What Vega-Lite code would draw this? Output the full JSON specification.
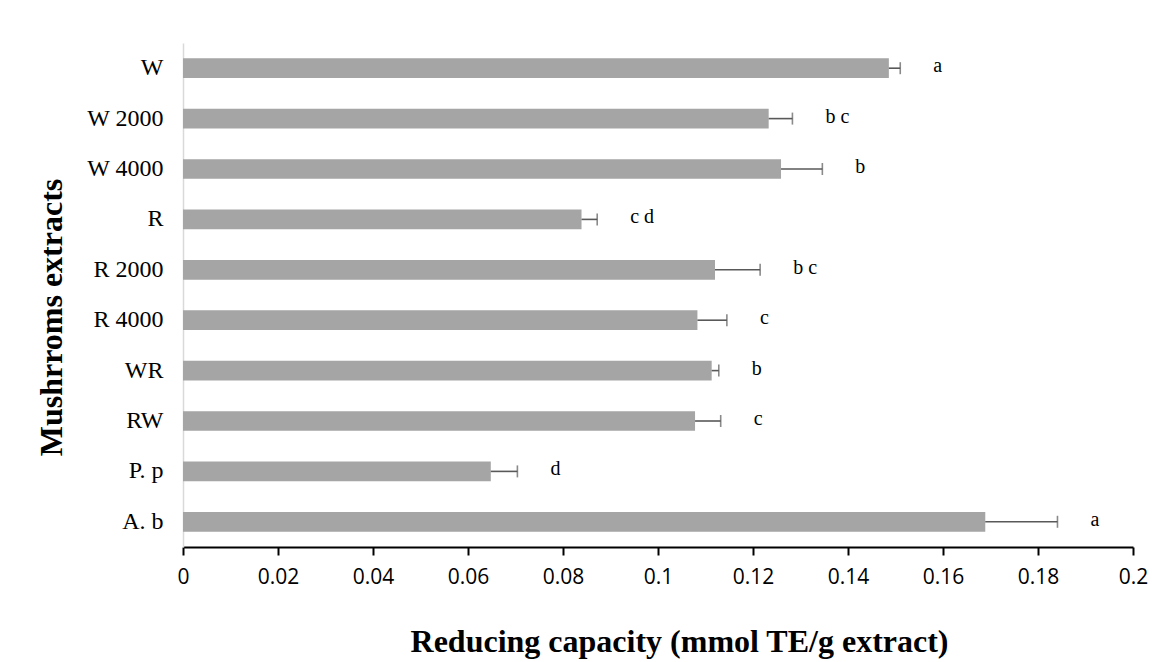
{
  "$schema": "https://vega.github.io/schema/vega-lite/v6.json",
  "autosize": {"type": "none"},
  "width": 950,
  "height": 504,
  "padding": {"left": 183, "top": 43, "right": 38, "bottom": 115},
  "background": "white",
  "config": {"view": {"stroke": null}},
  "data": {
    "values": [
      {"extract": "W", "value": 0.1486, "upper": 0.151, "letter": "a"},
      {"extract": "W 2000", "value": 0.1233, "upper": 0.1283, "letter": "b c"},
      {"extract": "W 4000", "value": 0.1259, "upper": 0.1346, "letter": "b"},
      {"extract": "R", "value": 0.0839, "upper": 0.0872, "letter": "c d"},
      {"extract": "R 2000", "value": 0.112, "upper": 0.1215, "letter": "b c"},
      {"extract": "R 4000", "value": 0.1083, "upper": 0.1145, "letter": "c"},
      {"extract": "WR", "value": 0.1113, "upper": 0.1128, "letter": "b"},
      {"extract": "RW", "value": 0.1078, "upper": 0.1132, "letter": "c"},
      {"extract": "P. p", "value": 0.0648, "upper": 0.0704, "letter": "d"},
      {"extract": "A. b", "value": 0.1689, "upper": 0.1841, "letter": "a"}
    ]
  },
  "encoding": {
    "y": {
      "field": "extract",
      "type": "nominal",
      "sort": null,
      "scale": {"paddingInner": 0.61, "paddingOuter": 0.305},
      "axis": {
        "title": "Mushrroms extracts",
        "titleFont": "Liberation Serif",
        "titleFontSize": 32,
        "titleFontWeight": "bold",
        "titleColor": "black",
        "titleAngle": -90,
        "titleBaseline": "alphabetic",
        "titleAlign": "center",
        "titleX": -122,
        "titleY": 274,
        "labelFont": "Liberation Serif",
        "labelFontSize": 24,
        "labelColor": "black",
        "labelPadding": 20,
        "ticks": false,
        "domainColor": "#d9d9d9",
        "domainWidth": 1.5,
        "grid": false
      }
    }
  },
  "layer": [
    {
      "mark": {"type": "bar", "color": "#a5a5a5"},
      "encoding": {
        "x": {
          "field": "value",
          "type": "quantitative",
          "scale": {"domain": [0, 0.2], "nice": false},
          "axis": {
            "values": [0, 0.02, 0.04, 0.06, 0.08, 0.1, 0.12, 0.14, 0.16, 0.18, 0.2],
            "format": ".2~f",
            "title": "Reducing capacity (mmol TE/g extract)",
            "titleFont": "Liberation Serif",
            "titleFontSize": 32,
            "titleFontWeight": "bold",
            "titleColor": "black",
            "titleAlign": "center",
            "titleX": 496,
            "titleY": 104,
            "titleBaseline": "alphabetic",
            "labelFont": "Open Sans",
            "labelFontSize": 21,
            "labelColor": "black",
            "labelPadding": 11,
            "labelFlush": false,
            "labelOverlap": false,
            "domainColor": "black",
            "domainWidth": 2,
            "tickColor": "black",
            "tickWidth": 2,
            "tickSize": 8,
            "grid": false
          }
        }
      }
    },
    {
      "mark": {"type": "rule", "color": "#595959", "strokeWidth": 1.6},
      "encoding": {
        "x": {"field": "value", "type": "quantitative"},
        "x2": {"field": "upper"}
      }
    },
    {
      "mark": {"type": "tick", "color": "#595959", "thickness": 1.6, "size": 12, "orient": "vertical"},
      "encoding": {
        "x": {"field": "upper", "type": "quantitative"}
      }
    },
    {
      "mark": {"type": "text", "align": "left", "baseline": "middle", "dx": 33, "dy": -2, "font": "Liberation Serif", "fontSize": 20, "color": "black"},
      "encoding": {
        "x": {"field": "upper", "type": "quantitative"},
        "text": {"field": "letter"}
      }
    }
  ]
}
